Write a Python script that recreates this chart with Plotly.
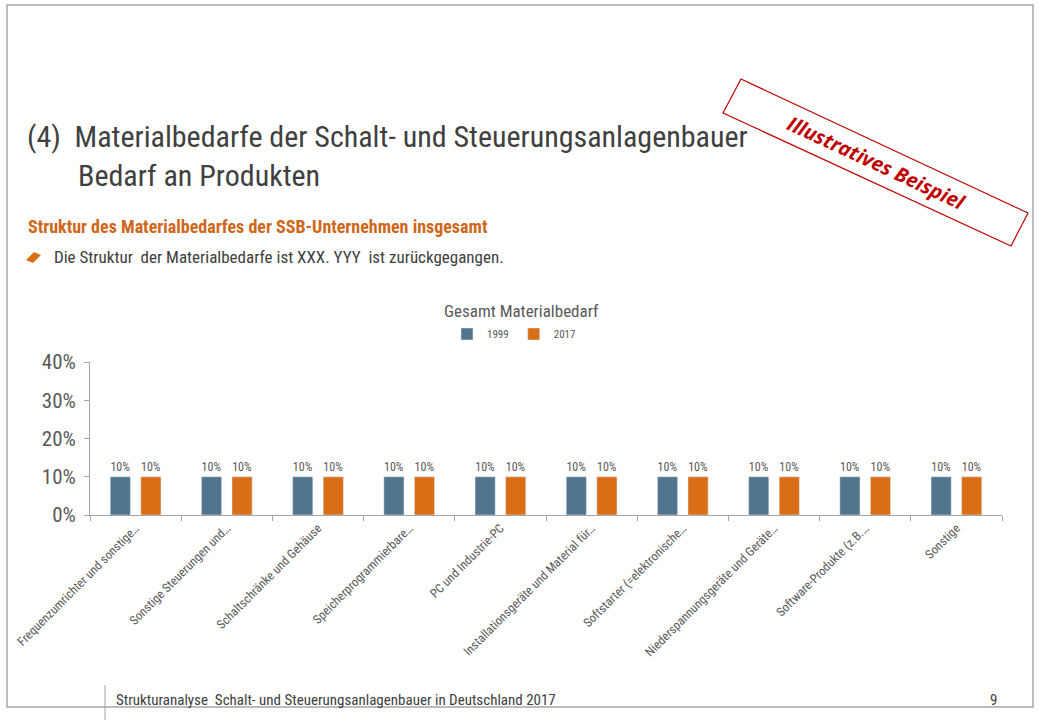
import plotly.graph_objects as go

# data
categories = [
    "Frequenzumrichter und sonstige…",
    "Sonstige Steuerungen und…",
    "Schaltschränke und Gehäuse",
    "Speicherprogrammierbare…",
    "PC und Industrie-PC",
    "Installationsgeräte und Material für…",
    "Softstarter (=elektronische…",
    "Niederspannungsgeräte und Geräte…",
    "Software-Produkte (z.B.…",
    "Sonstige",
]
values_1999 = [0.10, 0.10, 0.10, 0.10, 0.10, 0.10, 0.10, 0.10, 0.10, 0.10]
values_2017 = [0.10, 0.10, 0.10, 0.10, 0.10, 0.10, 0.10, 0.10, 0.10, 0.10]

BLUE = "#52758F"
ORANGE = "#D86F17"
GREY = "#595959"
DARK = "#404040"
NARROW = "Roboto Condensed, Liberation Sans, sans-serif"

W, H = 1040, 720
L, R, T, B = 90, 38, 362, 205


# pixel -> paper coords (for the slide decorations)
def px(x):
    return (x - L) / (W - L - R)


def py(y):
    return (H - B - y) / (H - T - B)


def poly(pts):
    return "M " + " L ".join("%f %f" % (px(a), py(b)) for a, b in pts) + " Z"


fig = go.Figure()
fig.add_trace(go.Bar(name="1999", x=categories, y=values_1999,
                     marker_color=BLUE, texttemplate="%{y:.0%}",
                     textposition="outside", cliponaxis=False,
                     textfont=dict(size=12, color=GREY, family=NARROW)))
fig.add_trace(go.Bar(name="2017", x=categories, y=values_2017,
                     marker_color=ORANGE, texttemplate="%{y:.0%}",
                     textposition="outside", cliponaxis=False,
                     textfont=dict(size=12, color=GREY, family=NARROW)))

shapes = [
    # slide frame
    dict(type="rect", x0=px(7), x1=px(1033), y0=py(5), y1=py(707),
         line=dict(color="#A6A6A6", width=1.5), layer="below"),
    dict(type="line", x0=px(105), x1=px(105), y0=py(685), y1=py(720),
         line=dict(color="#A6A6A6", width=1)),
    # bullet
    dict(type="path", path=poly([(26, 260), (34, 252), (41, 255), (33, 263)]),
         fillcolor=ORANGE, line=dict(width=0)),
    # stamp
    dict(type="path", path=poly([(741, 79), (1028, 213), (1011, 246), (723, 113)]),
         line=dict(color="#C00000", width=1.2), fillcolor="rgba(0,0,0,0)"),
]
for s in shapes:
    s.update(xref="paper", yref="paper")

annotations = [
    dict(text="(4)  Materialbedarfe der Schalt- und Steuerungsanlagenbauer", x=px(25), y=py(137),
         xanchor="left", font=dict(size=30, color=DARK)),
    dict(text="Bedarf an Produkten", x=px(76), y=py(176),
         xanchor="left", font=dict(size=30, color=DARK)),
    dict(text="<b>Struktur des Materialbedarfes der SSB-Unternehmen insgesamt</b>", x=px(26), y=py(226),
         xanchor="left", font=dict(size=18, color="#D0661A")),
    dict(text="Die Struktur  der Materialbedarfe ist XXX. YYY  ist zurückgegangen.", x=px(52), y=py(257),
         xanchor="left", font=dict(size=17, color=DARK)),
    dict(text="<b><i>Illustratives Beispiel</i></b>", x=px(876), y=py(162), textangle=25,
         xanchor="center", font=dict(size=20, color="#C00000", family="Open Sans")),
    dict(text="Gesamt Materialbedarf", x=px(521), y=py(311),
         xanchor="center", font=dict(size=17, color=GREY)),
    dict(text="Strukturanalyse  Schalt- und Steuerungsanlagenbauer in Deutschland 2017", x=px(114), y=py(700),
         xanchor="left", font=dict(size=15, color=DARK)),
    dict(text="9", x=px(993), y=py(700),
         xanchor="center", font=dict(size=15, color=DARK)),
]
for a in annotations:
    a.update(xref="paper", yref="paper", yanchor="middle", showarrow=False)
    a["font"].setdefault("family", NARROW)

fig.update_layout(
    width=W, height=H,
    margin=dict(l=L, r=R, t=T, b=B, autoexpand=False),
    paper_bgcolor="white", plot_bgcolor="white",
    barmode="group", bargap=0.33, bargroupgap=0.34,
    showlegend=True,
    legend=dict(orientation="h", x=px(514), y=py(334), xanchor="center", yanchor="middle",
                font=dict(size=11, color=GREY, family=NARROW), itemwidth=30),
    shapes=shapes,
    annotations=annotations,
    font=dict(family=NARROW, color=GREY),
)
fig.update_yaxes(range=[0, 0.4], dtick=0.1, tickformat=".0%", showgrid=False, zeroline=False,
                 showline=True, linecolor="#A6A6A6", ticks="outside", ticklen=5, tickcolor="#A6A6A6",
                 ticklabelstandoff=4,
                 tickfont=dict(size=21, color=GREY, family=NARROW), automargin=False)
fig.update_xaxes(type="category", tickangle=-45, showline=True, linecolor="#A6A6A6", ticks="outside",
                 tickson="boundaries", ticklen=5, tickcolor="#A6A6A6", showgrid=False,
                 tickfont=dict(size=12.5, color=GREY, family=NARROW), automargin=False)

fig.write_html("out.html", config={"displayModeBar": False},
               post_script="document.body.style.margin='0';")
